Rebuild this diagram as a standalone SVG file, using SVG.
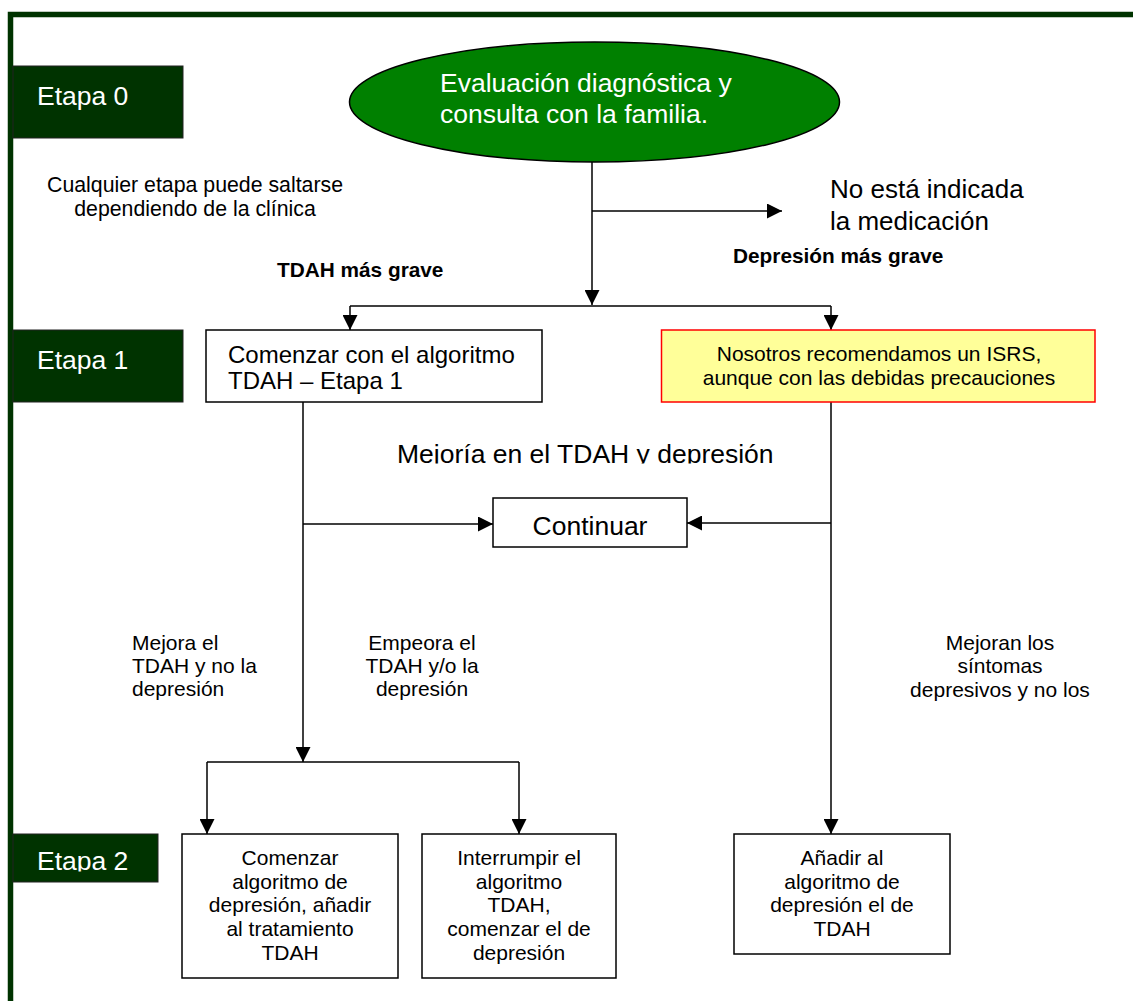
<svg xmlns="http://www.w3.org/2000/svg" width="1133" height="1001" viewBox="0 0 1133 1001">
<style>
text{font-family:"Liberation Sans",Arial,sans-serif;fill:#000}
.etapa rect{fill:#003300;stroke:#222;stroke-width:1}
.etapa text{fill:#fff;font-size:26.5px}
.box{fill:#fff;stroke:#000;stroke-width:1.5}
.ln{fill:none;stroke:#000;stroke-width:1.5}
.arr{marker-end:url(#ah)}
.t21{font-size:21px}
.t24{font-size:24px}
.t26{font-size:26.5px}
.b{font-weight:bold;font-size:20.8px}
.mid{text-anchor:middle}
</style>
<defs>
<marker id="ah" viewBox="0 0 15 15" refX="15" refY="7.5" markerWidth="15" markerHeight="15" markerUnits="userSpaceOnUse" orient="auto">
<path d="M0,0 L15,7.5 L0,15 z" fill="#000"/>
</marker>
<clipPath id="clipMej"><rect x="0" y="400" width="1133" height="63.5"/></clipPath>
<clipPath id="clipE2"><rect x="13" y="834" width="145" height="37.5"/></clipPath>
</defs>
<rect x="10.5" y="14.5" width="1200" height="1100" fill="none" stroke="#003300" stroke-width="5.5"/>

<g id="etapa0" class="etapa"><rect x="13" y="66" width="170" height="72"/><text x="37" y="105">Etapa 0</text></g>
<g id="etapa1" class="etapa"><rect x="13" y="330" width="170" height="72"/><text x="37" y="369">Etapa 1</text></g>
<g id="etapa2" class="etapa"><rect x="13" y="834" width="145" height="48"/><text x="37" y="870" clip-path="url(#clipE2)">Etapa 2</text></g>

<g id="nota"><text class="mid" style="font-size:21.3px" x="195" y="192">Cualquier etapa puede saltarse</text><text class="mid" style="font-size:21.3px" x="195" y="216">dependiendo de la clínica</text></g>

<g id="connectors">
<path class="ln arr" d="M592,162 V305"/>
<path class="ln arr" d="M592,211 H782"/>
<path class="ln" d="M350,306 H831"/>
<path class="ln arr" d="M350,306 V330"/>
<path class="ln arr" d="M831,306 V330"/>
<path class="ln arr" d="M303,402 V762"/>
<path class="ln arr" d="M303,524 H493"/>
<path class="ln arr" d="M831,402 V834"/>
<path class="ln arr" d="M831,523 H687"/>
<path class="ln" d="M207,762 H519"/>
<path class="ln arr" d="M207,762 V834"/>
<path class="ln arr" d="M519,762 V834"/>
</g>

<g id="evaluacion"><ellipse cx="594.5" cy="102" rx="245" ry="60" fill="#008000" stroke="#000" stroke-width="1.5"/>
<text class="t26" x="440" y="92" style="fill:#fff">Evaluación diagnóstica y</text>
<text class="t26" x="440" y="123" style="fill:#fff">consulta con la familia.</text></g>

<g id="no-indicada"><text style="font-size:26px" x="830" y="198">No está indicada</text><text style="font-size:26px" x="830" y="230">la medicación</text></g>
<g id="lbl-dep"><text class="b" x="733" y="263">Depresión más grave</text></g>
<g id="lbl-tdah"><text class="b" x="277" y="277">TDAH más grave</text></g>

<g id="comenzar1"><rect class="box" x="206" y="330" width="336" height="72"/>
<text class="t24" x="228" y="363">Comenzar con el algoritmo</text>
<text class="t24" x="228" y="389">TDAH – Etapa 1</text></g>

<g id="isrs"><rect x="661.5" y="330" width="433.5" height="72" fill="#ffff99" stroke="#ff0000" stroke-width="1.5"/>
<text class="t21 mid" x="879" y="361">Nosotros recomendamos un ISRS,</text>
<text class="t21 mid" x="879" y="385">aunque con las debidas precauciones</text></g>

<g id="lbl-mejoria"><text class="t26" x="397" y="463" clip-path="url(#clipMej)">Mejoría en el TDAH y depresión</text></g>

<g id="continuar"><rect class="box" x="493" y="498" width="194" height="49"/>
<text class="t26 mid" x="590" y="535">Continuar</text></g>

<g id="lbl-mejora"><text class="t21" x="132" y="650">Mejora el</text><text class="t21" x="132" y="673">TDAH y no la</text><text class="t21" x="132" y="696">depresión</text></g>
<g id="lbl-empeora"><text class="t21 mid" x="422" y="650">Empeora el</text><text class="t21 mid" x="422" y="673">TDAH y/o la</text><text class="t21 mid" x="422" y="696">depresión</text></g>
<g id="lbl-mejoran"><text class="t21 mid" x="1000" y="650">Mejoran los</text><text class="t21 mid" x="1000" y="673">síntomas</text><text class="t21 mid" x="1000" y="697">depresivos y no los</text></g>

<g id="comenzar-dep"><rect class="box" x="182" y="834" width="216" height="144"/>
<text class="t21 mid" x="290" y="865">Comenzar</text>
<text class="t21 mid" x="290" y="888.5">algoritmo de</text>
<text class="t21 mid" x="290" y="912">depresión, añadir</text>
<text class="t21 mid" x="290" y="935.5">al tratamiento</text>
<text class="t21 mid" x="290" y="960">TDAH</text></g>

<g id="interrumpir"><rect class="box" x="422" y="834" width="194" height="144"/>
<text class="t21 mid" x="519" y="865">Interrumpir el</text>
<text class="t21 mid" x="519" y="888.5">algoritmo</text>
<text class="t21 mid" x="519" y="912">TDAH,</text>
<text class="t21 mid" x="519" y="935.5">comenzar el de</text>
<text class="t21 mid" x="519" y="960">depresión</text></g>

<g id="anadir"><rect class="box" x="734" y="834" width="216" height="120"/>
<text class="t21 mid" x="842" y="865">Añadir al</text>
<text class="t21 mid" x="842" y="888.5">algoritmo de</text>
<text class="t21 mid" x="842" y="912">depresión el de</text>
<text class="t21 mid" x="842" y="935.5">TDAH</text></g>
</svg>
